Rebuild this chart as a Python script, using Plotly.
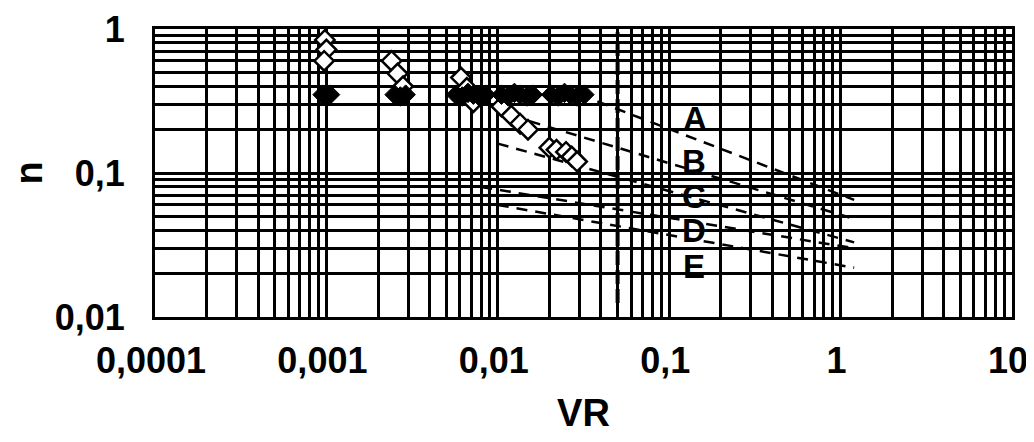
import numpy as np
import plotly.graph_objects as go

# ---------------- data ----------------
x_tickvals = [0.0001, 0.001, 0.01, 0.1, 1, 10]
x_ticktext = ["0,0001", "0,001", "0,01", "0,1", "1", "10"]
y_tickvals = [0.01, 0.1, 1]
y_ticktext = ["0,01", "0,1", "1"]

# filled diamonds
filled_vr = [0.00095, 0.001, 0.00105, 0.0025, 0.0027, 0.0029,
             0.0057, 0.0062, 0.0067, 0.0072, 0.0078, 0.0085,
             0.0105, 0.0115, 0.0125, 0.0135, 0.0148, 0.016,
             0.0205, 0.0225, 0.0245, 0.0265, 0.029, 0.032]
filled_n = [0.35, 0.34, 0.35, 0.35, 0.34, 0.35,
            0.35, 0.34, 0.36, 0.35, 0.34, 0.35,
            0.35, 0.34, 0.36, 0.35, 0.34, 0.35,
            0.35, 0.34, 0.36, 0.35, 0.34, 0.35]

# open diamonds
open_vr = [0.00098, 0.001, 0.00097, 0.0024, 0.0026, 0.0028,
           0.0061, 0.0066, 0.0072, 0.0105, 0.012, 0.0135, 0.015,
           0.020, 0.022, 0.025, 0.027, 0.029]
open_n = [0.84, 0.72, 0.6, 0.6, 0.49, 0.4,
          0.46, 0.39, 0.31, 0.29, 0.25, 0.22, 0.2,
          0.15, 0.145, 0.14, 0.13, 0.12]

# dashed curves A..E
curve_names = ["A", "B", "C", "D", "E"]
curve_vr_start = [0.03, 0.012, 0.01, 0.008, 0.01]
curve_n_start = [0.35, 0.25, 0.16, 0.08, 0.06]
curve_vr_end = [1.2, 1.2, 1.2, 1.2, 1.2]
curve_n_end = [0.065, 0.048, 0.033, 0.03, 0.022]
label_vr = [0.141, 0.139, 0.140, 0.139, 0.139]
label_n = [0.24, 0.121, 0.069, 0.040, 0.0226]

# vertical dashed limit
limit_vr = [0.05, 0.05]
limit_n = [0.0125, 0.95]

FONT = "Liberation Sans, Arial, sans-serif"

fig = go.Figure()

for i, name in enumerate(curve_names):
    fig.add_trace(go.Scatter(
        x=[curve_vr_start[i], curve_vr_end[i]],
        y=[curve_n_start[i], curve_n_end[i]],
        mode="lines", line=dict(color="black", width=2.5, dash="11px,8px"),
        hoverinfo="skip", name=name))

fig.add_trace(go.Scatter(
    x=limit_vr, y=limit_n, mode="lines",
    line=dict(color="black", width=4, dash="14px,5px"), hoverinfo="skip"))

fig.add_trace(go.Scatter(
    x=open_vr, y=open_n, mode="markers",
    marker=dict(symbol="diamond", size=15, color="white",
                line=dict(color="black", width=2.5))))

fig.add_trace(go.Scatter(
    x=filled_vr, y=filled_n, mode="markers",
    marker=dict(symbol="diamond", size=15, color="black",
                line=dict(color="black", width=1))))

for i, name in enumerate(curve_names):
    fig.add_annotation(x=np.log10(label_vr[i]), y=np.log10(label_n[i]),
                       text=name, showarrow=False, height=30, borderpad=0,
                       font=dict(family=FONT, size=33, color="black", weight="bold"))

fig.update_xaxes(
    type="log", range=[-4, 1],
    tickvals=x_tickvals, ticktext=x_ticktext, ticks="",
    tickfont=dict(family=FONT, size=36, color="black", weight="bold"),
    ticklabelstandoff=10, ticklabelshift=-4,
    showline=True, linecolor="black", linewidth=3, mirror=True,
    showgrid=True, gridcolor="black", gridwidth=2.5,
    minor=dict(dtick="D1", showgrid=True, gridcolor="black", gridwidth=2.5),
    zeroline=False,
    title=dict(text="VR", standoff=25,
               font=dict(family=FONT, size=38, color="black", weight="bold")))

fig.update_yaxes(
    type="log", range=[-2, 0],
    tickvals=y_tickvals, ticktext=y_ticktext, ticks="",
    tickfont=dict(family=FONT, size=36, color="black", weight="bold"),
    ticklabelstandoff=20,
    showline=True, linecolor="black", linewidth=3, mirror=True,
    showgrid=True, gridcolor="black", gridwidth=2.5,
    minor=dict(dtick="D1", showgrid=True, gridcolor="black", gridwidth=2.5),
    zeroline=False,
    title=dict(text="n", standoff=48,
               font=dict(family=FONT, size=38, color="black", weight="bold")))

# the page adds an 8px body margin; the figure is sized so it fits the window
fig.update_layout(
    width=1026, height=426,
    margin=dict(l=147, r=22, t=21, b=117, autoexpand=False),
    paper_bgcolor="white", plot_bgcolor="white",
    showlegend=False,
    font=dict(family=FONT, color="black"))

fig.write_html("out.html")
